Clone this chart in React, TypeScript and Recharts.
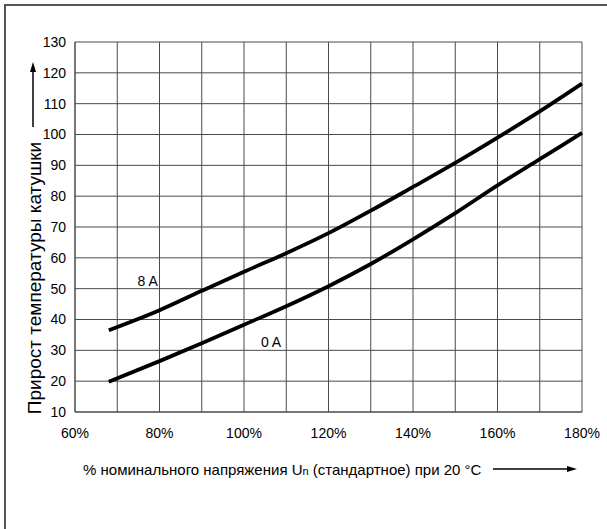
import React from 'react';
import { LineChart, Line, XAxis, YAxis, CartesianGrid, ReferenceDot } from 'recharts';

// % of nominal voltage
const voltage = [68, 80, 90, 100, 110, 120, 130, 140, 150, 160, 170, 180];
// coil temperature rise, 8 A load
const rise8A = [36.5, 43, 49.3, 55.5, 61.5, 68, 75.3, 83, 90.8, 99, 107.5, 116.5];
// coil temperature rise, 0 A load
const rise0A = [19.8, 26.5, 32.3, 38.3, 44.3, 50.8, 58, 66, 74.5, 83.5, 92, 100.5];

const xTicks = [60, 70, 80, 90, 100, 110, 120, 130, 140, 150, 160, 170, 180];
const yTicks = [10, 20, 30, 40, 50, 60, 70, 80, 90, 100, 110, 120, 130];

const curveLabels = [
  { name: '8 A', x: 77.2, y: 52.6 },
  { name: '0 A', x: 106.4, y: 32.8 },
];

const data = voltage.map((v, i) => ({ x: v, a8: rise8A[i], a0: rise0A[i] }));

const FONT = '"Liberation Sans", Arial, sans-serif';
const GRID = '#4a4a4a';

const YLabel = () => (
  <g>
    <text
      x={0}
      y={0}
      transform="translate(41, 278) rotate(-90)"
      textAnchor="middle"
      fontSize={19}
      fontFamily={FONT}
      fill="#000"
    >
      Прирост температуры катушки
    </text>
    <line x1={33} y1={127} x2={33} y2={70} stroke="#000" strokeWidth={1.5} />
    <polygon points="33,62 30,72 36,72" fill="#000" />
  </g>
);

const XLabel = () => (
  <g>
    <text x={83} y={475} fontSize={15} fontFamily={FONT} fill="#000">
      % номинального напряжения U<tspan fontSize={11}>n</tspan> (стандартное) при 20 °C
    </text>
    <line x1={493} y1={469} x2={568} y2={469} stroke="#000" strokeWidth={1.5} />
    <polygon points="577,469 567,466 567,472" fill="#000" />
  </g>
);

export default function App() {
  return (
    <div style={{ position: 'absolute', left: 0, top: 0, width: 607, height: 529, background: '#fff' }}>
      <div
        style={{
          position: 'absolute',
          left: 4,
          top: 4,
          width: 603,
          height: 525,
          borderLeft: '2px solid #555',
          borderTop: '2px solid #555',
        }}
      />
      <div style={{ position: 'absolute', left: 0, top: 0 }}>
        <LineChart
          width={607}
          height={529}
          data={data}
          margin={{ top: 42, right: 25, bottom: 87, left: 35 }}
          style={{ fontFamily: FONT }}
        >
          <CartesianGrid stroke={GRID} strokeWidth={1} />
          <XAxis
            dataKey="x"
            type="number"
            domain={[60, 180]}
            ticks={xTicks}
            interval={0}
            height={30}
            tickSize={0}
            tickMargin={16}
            axisLine={{ stroke: GRID }}
            tickLine={false}
            tick={{ fontSize: 14, fill: '#000', fontFamily: FONT }}
            tickFormatter={(v: number) => (v % 20 === 0 ? `${v}%` : '')}
            label={<XLabel />}
          />
          <YAxis
            type="number"
            domain={[10, 130]}
            ticks={yTicks}
            interval={0}
            width={40}
            tickSize={0}
            tickMargin={9}
            axisLine={{ stroke: GRID }}
            tickLine={false}
            tick={{ fontSize: 14, fill: '#000', fontFamily: FONT }}
            label={<YLabel />}
          />
          <Line
            type="monotone"
            dataKey="a8"
            stroke="#000"
            strokeWidth={3.8}
            dot={false}
            isAnimationActive={false}
          />
          <Line
            type="monotone"
            dataKey="a0"
            stroke="#000"
            strokeWidth={3.8}
            dot={false}
            isAnimationActive={false}
          />
          {curveLabels.map((c) => (
            <ReferenceDot
              key={c.name}
              x={c.x}
              y={c.y}
              r={0}
              fill="none"
              stroke="none"
              label={{ value: c.name, position: 'center', fontSize: 14, fill: '#000', fontFamily: FONT }}
            />
          ))}
        </LineChart>
      </div>
    </div>
  );
}
